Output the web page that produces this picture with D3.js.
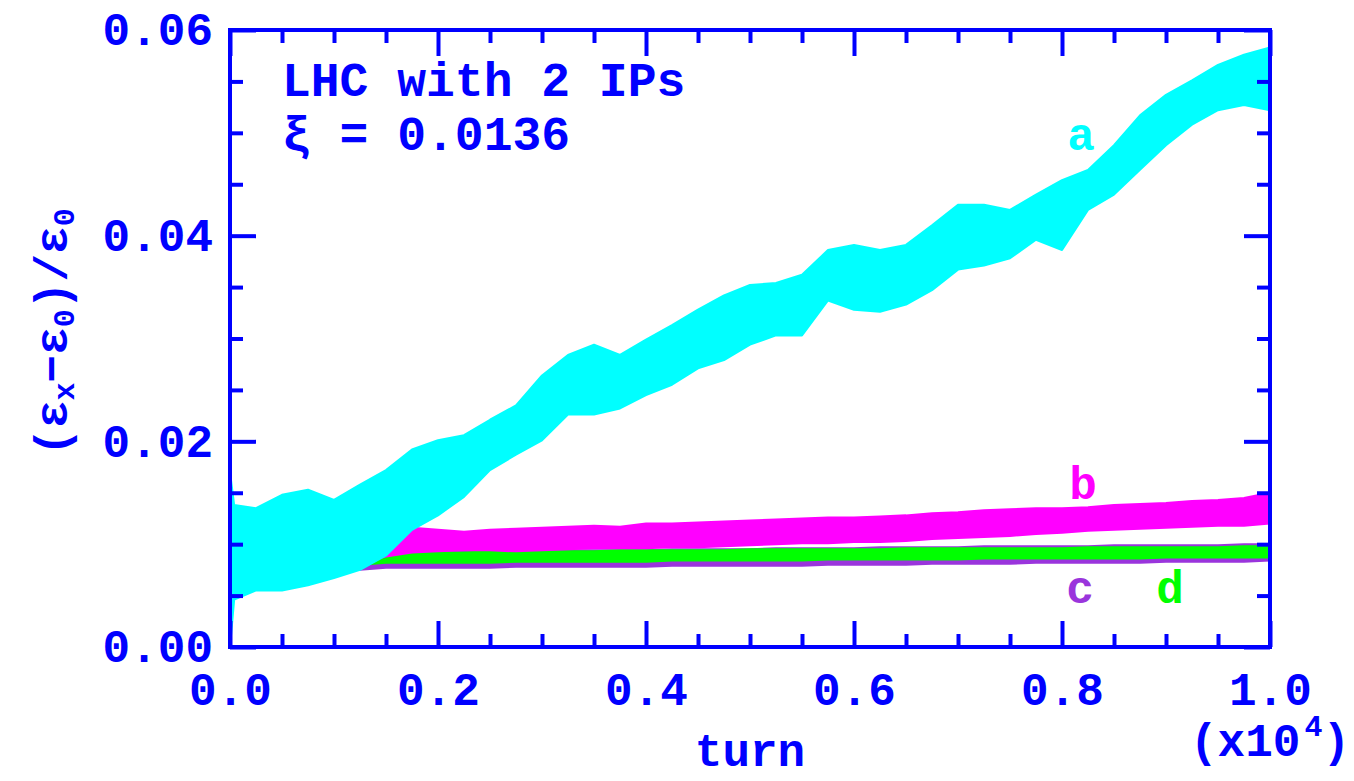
<!DOCTYPE html>
<html>
<head>
  <meta charset="utf-8">
  <title>LHC with 2 IPs</title>
  <script src="https://d3js.org/d3.v7.min.js"></script>
  <style>
    body { margin: 0; background: #fff; }
    svg text { font-family: "Liberation Mono", "DejaVu Sans Mono", monospace; font-weight: bold; fill: #0000ff; }
    .tick line { stroke: #0000ff; stroke-width: 4px; }
    .domain { display: none; }
  </style>
</head>
<body>
<svg width="1354" height="781"></svg>
<script>
// turn (units of 1e4) and band edges (lo / hi) of each scatter series
var turn = [0, 0.004, 0.025, 0.05, 0.075, 0.1, 0.125, 0.15, 0.175, 0.2, 0.225, 0.25, 0.275, 0.3, 0.325, 0.35,
  0.375, 0.4, 0.425, 0.45, 0.475, 0.5, 0.525, 0.55, 0.575, 0.6, 0.625, 0.65, 0.675, 0.7, 0.725, 0.75,
  0.775, 0.8, 0.825, 0.85, 0.875, 0.9, 0.925, 0.95, 0.975, 1.0];

var aHi = [0.0170, 0.0138, 0.0135, 0.0148, 0.0153, 0.0143, 0.0158, 0.0172, 0.0192, 0.0201, 0.0206, 0.0221, 0.0235, 0.0264, 0.0284, 0.0294,
  0.0284, 0.0299, 0.0313, 0.0328, 0.0342, 0.0352, 0.0354, 0.0362, 0.0386, 0.0391, 0.0386, 0.0391, 0.0410, 0.0430, 0.0430, 0.0425,
  0.0440, 0.0454, 0.0464, 0.0488, 0.0517, 0.0537, 0.0551, 0.0566, 0.0576, 0.0583];
var aLo = [0.0000, 0.0046, 0.0055, 0.0055, 0.0060, 0.0067, 0.0075, 0.0089, 0.0114, 0.0128, 0.0146, 0.0172, 0.0187, 0.0201, 0.0226, 0.0226,
  0.0232, 0.0245, 0.0255, 0.0271, 0.0279, 0.0294, 0.0303, 0.0303, 0.0337, 0.0328, 0.0326, 0.0333, 0.0347, 0.0367, 0.0371, 0.0378,
  0.0396, 0.0386, 0.0425, 0.0440, 0.0464, 0.0488, 0.0508, 0.0522, 0.0527, 0.0522];

var bHi = [0.0165, 0.0120, 0.0110, 0.0108, 0.0110, 0.0110, 0.0112, 0.0114, 0.0116, 0.0114, 0.0112, 0.0114, 0.0115, 0.0116, 0.0117, 0.0118,
  0.0117, 0.0120, 0.0120, 0.0121, 0.0122, 0.0123, 0.0124, 0.0125, 0.0126, 0.0126, 0.0127, 0.0128, 0.0130, 0.0131, 0.0133, 0.0134,
  0.0135, 0.0135, 0.0136, 0.0138, 0.0139, 0.0140, 0.0142, 0.0143, 0.0145, 0.0150];
var bLo = [0.0005, 0.0070, 0.0072, 0.0074, 0.0076, 0.0078, 0.0082, 0.0088, 0.0092, 0.0093, 0.0094, 0.0094, 0.0093, 0.0094, 0.0095, 0.0096,
  0.0096, 0.0096, 0.0097, 0.0097, 0.0098, 0.0099, 0.0100, 0.0101, 0.0101, 0.0102, 0.0102, 0.0103, 0.0105, 0.0106, 0.0107, 0.0108,
  0.0110, 0.0111, 0.0113, 0.0114, 0.0115, 0.0116, 0.0117, 0.0118, 0.0118, 0.0120];

var cHi = [0.0150, 0.0105, 0.0100, 0.0098, 0.0096, 0.0095, 0.0094, 0.0092, 0.0092, 0.0092, 0.0093, 0.0093, 0.0093, 0.0093, 0.0094, 0.0094,
  0.0094, 0.0094, 0.0095, 0.0095, 0.0095, 0.0095, 0.0096, 0.0096, 0.0096, 0.0096, 0.0097, 0.0097, 0.0097, 0.0097, 0.0098, 0.0098,
  0.0098, 0.0098, 0.0098, 0.0099, 0.0099, 0.0099, 0.0099, 0.0099, 0.0100, 0.0100];
var cLo = [0.0005, 0.0060, 0.0066, 0.0070, 0.0072, 0.0074, 0.0075, 0.0077, 0.0077, 0.0077, 0.0077, 0.0077, 0.0078, 0.0078, 0.0078, 0.0078,
  0.0078, 0.0078, 0.0079, 0.0079, 0.0079, 0.0079, 0.0079, 0.0079, 0.0080, 0.0080, 0.0080, 0.0080, 0.0081, 0.0081, 0.0081, 0.0081,
  0.0082, 0.0082, 0.0082, 0.0082, 0.0082, 0.0083, 0.0083, 0.0083, 0.0083, 0.0084];

var dHi = [0.0160, 0.0110, 0.0102, 0.0100, 0.0098, 0.0096, 0.0094, 0.0092, 0.0092, 0.0092, 0.0092, 0.0093, 0.0093, 0.0093, 0.0093, 0.0093,
  0.0094, 0.0094, 0.0094, 0.0094, 0.0094, 0.0095, 0.0095, 0.0095, 0.0095, 0.0095, 0.0095, 0.0096, 0.0096, 0.0096, 0.0096, 0.0096,
  0.0096, 0.0096, 0.0097, 0.0097, 0.0097, 0.0097, 0.0097, 0.0097, 0.0098, 0.0098];
var dLo = [0.0005, 0.0065, 0.0072, 0.0075, 0.0077, 0.0079, 0.0080, 0.0082, 0.0082, 0.0082, 0.0082, 0.0082, 0.0083, 0.0083, 0.0083, 0.0083,
  0.0083, 0.0083, 0.0084, 0.0084, 0.0084, 0.0084, 0.0084, 0.0084, 0.0085, 0.0085, 0.0085, 0.0085, 0.0085, 0.0085, 0.0086, 0.0086,
  0.0086, 0.0086, 0.0086, 0.0086, 0.0086, 0.0087, 0.0087, 0.0087, 0.0087, 0.0087];

var xMajor = [0, 0.2, 0.4, 0.6, 0.8, 1.0];
var xMinor = [0.05, 0.1, 0.15, 0.25, 0.3, 0.35, 0.45, 0.5, 0.55, 0.65, 0.7, 0.75, 0.85, 0.9, 0.95];
var yMajor = [0, 0.02, 0.04, 0.06];
var yMinor = [0.005, 0.01, 0.015, 0.025, 0.03, 0.035, 0.045, 0.05, 0.055];

var series = [
  {id: "c", lo: cLo, hi: cHi, color: "#9a35dc", lx: 1080, ly: 603},
  {id: "d", lo: dLo, hi: dHi, color: "#00ff00", lx: 1170, ly: 603},
  {id: "b", lo: bLo, hi: bHi, color: "#ff00ff", lx: 1083, ly: 499},
  {id: "a", lo: aLo, hi: aHi, color: "#00ffff", lx: 1081, ly: 150}
];

var svg = d3.select("svg"),
    pL = 230, pR = 1270, pT = 30, pB = 647;

var x = d3.scaleLinear().domain([0, 1]).range([pL, pR]),
    y = d3.scaleLinear().domain([0, 0.06]).range([pB, pT]);

svg.append("clipPath").attr("id", "plot")
  .append("rect").attr("x", pL).attr("y", pT).attr("width", pR - pL).attr("height", pB - pT);

var area = d3.area()
    .x(function(d) { return x(d.t); })
    .y0(function(d) { return y(d.lo); })
    .y1(function(d) { return y(d.hi); });

var bands = svg.append("g").attr("clip-path", "url(#plot)");
series.forEach(function(s) {
  var pts = turn.map(function(t, i) { return {t: t, lo: s.lo[i], hi: s.hi[i]}; });
  bands.append("path")
      .attr("d", area(pts))
      .attr("fill", s.color)
      .attr("stroke", s.color)
      .attr("stroke-width", 2)
      .attr("stroke-linejoin", "round");
});

// axes: inward ticks on all four sides
svg.append("g").attr("transform", "translate(0," + pB + ")")
    .call(d3.axisBottom(x).tickValues(xMinor).tickSize(-13).tickFormat(""));
svg.append("g").attr("transform", "translate(0," + pB + ")")
    .call(d3.axisBottom(x).tickValues(xMajor).tickSize(-26).tickPadding(25).tickFormat(d3.format(".1f")));
svg.append("g").attr("transform", "translate(0," + pT + ")")
    .call(d3.axisTop(x).tickValues(xMinor).tickSize(-13).tickFormat(""));
svg.append("g").attr("transform", "translate(0," + pT + ")")
    .call(d3.axisTop(x).tickValues(xMajor).tickSize(-26).tickFormat(""));

svg.append("g").attr("transform", "translate(" + pL + ",0)")
    .call(d3.axisLeft(y).tickValues(yMinor).tickSize(-13).tickFormat(""));
svg.append("g").attr("transform", "translate(" + pL + ",0)")
    .call(d3.axisLeft(y).tickValues(yMajor).tickSize(-26).tickPadding(17).tickFormat(d3.format(".2f")));
svg.append("g").attr("transform", "translate(" + pR + ",0)")
    .call(d3.axisRight(y).tickValues(yMinor).tickSize(-13).tickFormat(""));
svg.append("g").attr("transform", "translate(" + pR + ",0)")
    .call(d3.axisRight(y).tickValues(yMajor).tickSize(-26).tickFormat(""));

svg.selectAll(".tick text").attr("fill", null).style("font-size", "46px");

svg.append("rect")
    .attr("x", pL).attr("y", pT).attr("width", pR - pL).attr("height", pB - pT)
    .attr("fill", "none").attr("stroke", "#0000ff").attr("stroke-width", 4);

// labels
svg.append("text").attr("x", 750).attr("y", 766).attr("text-anchor", "middle")
    .style("font-size", "46px").text("turn");

var mult = svg.append("text").attr("x", 1190).attr("y", 756).style("font-size", "46px");
mult.append("tspan").text("(x10");
mult.append("tspan").attr("dx", 4).attr("dy", -20).style("font-size", "30px").text("4");
mult.append("tspan").attr("dy", 20).text(")");

var yl = svg.append("text")
    .attr("transform", "translate(67,332) rotate(-90)")
    .attr("text-anchor", "middle")
    .style("font-size", "46px");
yl.append("tspan").text("(ε");
yl.append("tspan").attr("dy", 7).style("font-size", "30px").text("x");
yl.append("tspan").attr("dy", -7).text("−ε");
yl.append("tspan").attr("dy", 7).style("font-size", "30px").text("0");
yl.append("tspan").attr("dy", -7).text(")/ε");
yl.append("tspan").attr("dy", 7).style("font-size", "30px").text("0");

svg.append("text").attr("x", 282).attr("y", 96).style("font-size", "48px").text("LHC with 2 IPs");
svg.append("text").attr("x", 282).attr("y", 150).style("font-size", "48px").text("ξ = 0.0136");

svg.selectAll(".curve-label")
  .data(series)
  .enter().append("text")
    .attr("class", "curve-label")
    .attr("x", function(d) { return d.lx; })
    .attr("y", function(d) { return d.ly; })
    .attr("text-anchor", "middle")
    .style("font-size", "46px")
    .style("fill", function(d) { return d.color; })
    .text(function(d) { return d.id; });
</script>
</body>
</html>
